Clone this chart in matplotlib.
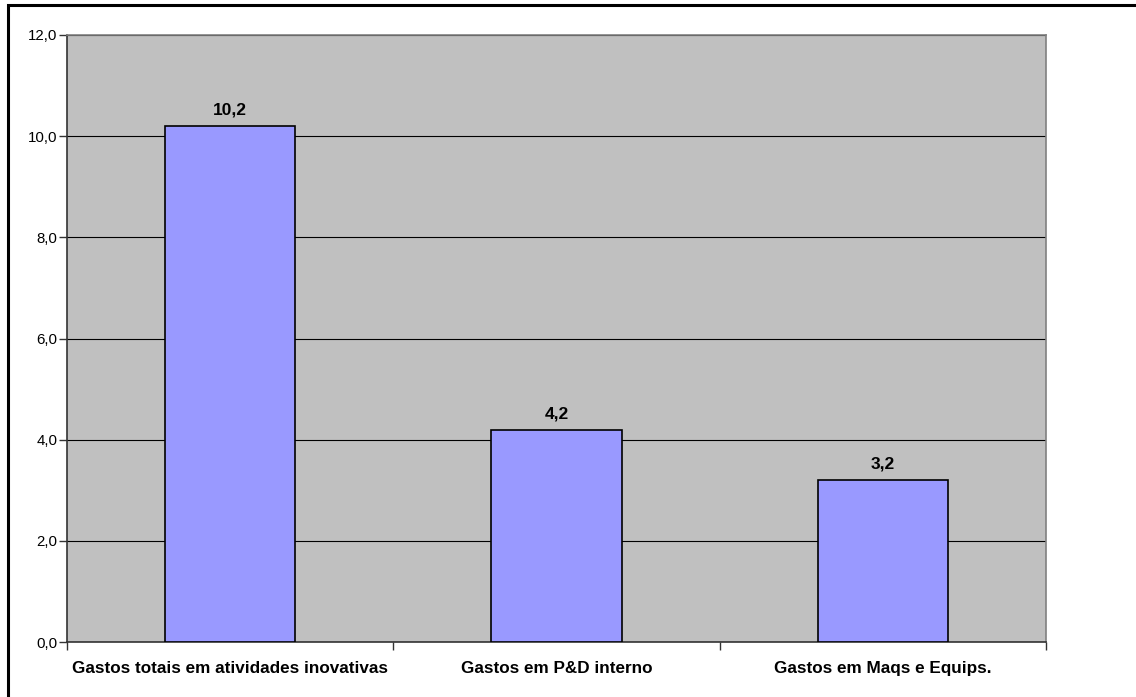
import matplotlib
matplotlib.use("Agg")
import matplotlib.pyplot as plt
from matplotlib.patches import Rectangle
from matplotlib.ticker import FuncFormatter, FixedLocator

categories = ["Gastos totais em atividades inovativas",
              "Gastos em P&D interno",
              "Gastos em Maqs e Equips."]
values = [10.2, 4.2, 3.2]
value_labels = ["10,2", "4,2", "3,2"]
y_ticks = [0, 2, 4, 6, 8, 10, 12]

plt.rcParams["font.family"] = ["Liberation Sans", "DejaVu Sans"]

W, H = 1136, 697
fig = plt.figure(figsize=(W / 100, H / 100), dpi=100)
ax = fig.add_axes([67 / W, 1 - 642 / H, (1046 - 67) / W, (642 - 35) / H])

# chart frame: only top and left edges fall inside the image
fig.patches.append(Rectangle((8 / W, -0.1), 1.2, 1 - 5 / H + 0.1,
                             transform=fig.transFigure, fill=False,
                             edgecolor="black", linewidth=2.2, zorder=10))

ax.set_facecolor("#C0C0C0")
x = list(range(len(categories)))
ax.bar(x, values, width=0.40, color="#9999FF", edgecolor="black",
       linewidth=1.2, zorder=3)
for xi, v, lab in zip(x, values, value_labels):
    ax.annotate(lab, (xi, v), xytext=(0, 6), textcoords="offset points",
                ha="center", va="bottom", fontsize=12.5, fontweight="bold")

ax.set_xlim(-0.5, len(categories) - 0.5)
ax.set_ylim(0, 12)
ax.set_yticks(y_ticks)
ax.yaxis.set_major_formatter(FuncFormatter(lambda v, p: f"{v:.1f}".replace(".", ",")))
ax.grid(axis="y", color="black", linewidth=0.8, zorder=1)

ax.set_xticks(x)
ax.set_xticklabels(categories, fontsize=12.3, fontweight="bold")
ax.tick_params(axis="x", length=0, pad=13.5)
ax.xaxis.set_minor_locator(FixedLocator([-0.5, 0.5, 1.5, 2.5]))
ax.tick_params(axis="x", which="minor", length=6, width=1, color="#333333")
ax.tick_params(axis="y", length=6, width=1, color="#333333", labelsize=10.8, pad=1)

for side in ("top", "right"):
    ax.spines[side].set_color("#808080")
    ax.spines[side].set_linewidth(1.2)
for side in ("left", "bottom"):
    ax.spines[side].set_color("#333333")
    ax.spines[side].set_linewidth(1.2)

fig.savefig("out.png", dpi=100)
